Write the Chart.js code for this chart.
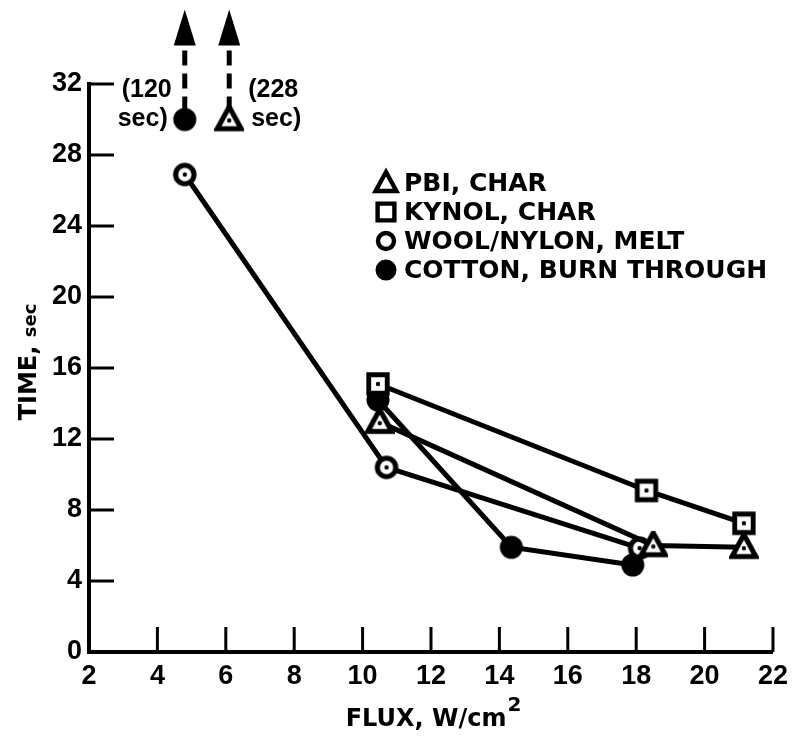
<!DOCTYPE html>
<html>
<head>
<meta charset="utf-8">
<script src="https://cdn.jsdelivr.net/npm/chart.js@4.4.0/dist/chart.umd.min.js"></script>
<style>
body{margin:0;background:#fff;}
#wrap{width:796px;height:741px;position:relative;}
</style>
</head>
<body>
<div id="wrap"><canvas id="myChart"></canvas></div>
<script>
// values (flux W/cm2 , time sec)
var pbiFlux = [10.5, 18.5, 21.15];
var pbiTime = [12.95, 6.0, 5.9];
var kynolFlux = [10.45, 18.3, 21.15];
var kynolTime = [15.1, 9.1, 7.25];
var woolFlux = [4.8, 10.7, 18.1];
var woolTime = [26.9, 10.4, 5.85];
var cottonFlux = [10.45, 14.35, 17.9];
var cottonTime = [14.2, 5.9, 4.9];

// off scale results, plotted at 30 with an arrow up
var offFlux = [4.8, 6.1];
var offTime = [30, 30];
var offText = [['(120', 'sec)'], ['(228', 'sec)']];
var arrowTop = 36.2;

var xTicks = [2, 4, 6, 8, 10, 12, 14, 16, 18, 20, 22];
var yTicks = [0, 4, 8, 12, 16, 20, 24, 28, 32];
var legendLabels = ['PBI, CHAR', 'KYNOL, CHAR', 'WOOL/NYLON, MELT', 'COTTON, BURN THROUGH'];

function pts(xs, ys){
  var out = [];
  for (var i = 0; i < xs.length; i++) out.push({x: xs[i], y: ys[i]});
  return out;
}

// marker shapes
function drawShape(ctx, kind, cx, cy, s, dot){
  ctx.strokeStyle = '#000';
  ctx.fillStyle = '#fff';
  ctx.lineWidth = s * 0.22;
  ctx.beginPath();
  if (kind == 'tri'){
    ctx.moveTo(cx, cy - s * 0.55);
    ctx.lineTo(cx + s * 0.52, cy + s * 0.4);
    ctx.lineTo(cx - s * 0.52, cy + s * 0.4);
    ctx.closePath();
  } else if (kind == 'sq'){
    ctx.rect(cx - s * 0.42, cy - s * 0.42, s * 0.84, s * 0.84);
  } else {
    ctx.arc(cx, cy, s * 0.4, 0, Math.PI * 2);
  }
  if (kind == 'dot'){
    ctx.fillStyle = '#000';
    ctx.arc(cx, cy, s * 0.5, 0, Math.PI * 2);
    ctx.fill();
    return;
  }
  ctx.fill();
  ctx.stroke();
  if (dot){
    ctx.fillStyle = '#000';
    ctx.beginPath();
    ctx.arc(cx, kind == 'tri' ? cy + 1 : cy, 2.2, 0, Math.PI * 2);
    ctx.fill();
  }
}

function marker(kind, s){
  var c = document.createElement('canvas');
  c.width = 30; c.height = 30;
  drawShape(c.getContext('2d'), kind, 15, 15, s, true);
  return c;
}

var mTri = marker('tri', 23);
var mSq = marker('sq', 22);
var mRing = marker('ring', 23);
var mDot = marker('dot', 23);

var black = '#000';
var tickFont = {family: '"Liberation Sans", Arial, sans-serif', size: 27, weight: 'bold'};

function lineSet(label, data, img){
  return {
    label: label,
    data: data,
    showLine: true,
    borderColor: black,
    borderWidth: 5,
    pointStyle: img,
    tension: 0
  };
}

var annot = {
  id: 'annot',
  afterDatasetsDraw: function(chart){
    var ctx = chart.ctx;
    var xs = chart.scales.x, ys = chart.scales.y;
    var a = chart.chartArea;
    ctx.save();

    // inner tick marks
    ctx.strokeStyle = black;
    ctx.lineWidth = 3;
    yTicks.forEach(function(v){
      if (v == 0) return;
      var py = ys.getPixelForValue(v);
      ctx.beginPath(); ctx.moveTo(a.left, py); ctx.lineTo(a.left + 25, py); ctx.stroke();
    });
    xTicks.forEach(function(v){
      if (v == 2) return;
      var px = xs.getPixelForValue(v);
      ctx.beginPath(); ctx.moveTo(px, a.bottom); ctx.lineTo(px, a.bottom - 25); ctx.stroke();
    });

    // arrows for off scale points
    for (var i = 0; i < offFlux.length; i++){
      var px = xs.getPixelForValue(offFlux[i]);
      var py = ys.getPixelForValue(offTime[i]);
      var pt = ys.getPixelForValue(arrowTop);
      ctx.lineWidth = 5;
      ctx.setLineDash([15, 8]);
      ctx.beginPath(); ctx.moveTo(px, py - 8); ctx.lineTo(px, pt + 30); ctx.stroke();
      ctx.setLineDash([]);
      ctx.fillStyle = black;
      ctx.beginPath();
      ctx.moveTo(px, pt);
      ctx.lineTo(px + 11, pt + 36);
      ctx.lineTo(px - 11, pt + 36);
      ctx.closePath();
      ctx.fill();

      ctx.font = 'bold 25px "Liberation Sans", Arial, sans-serif';
      ctx.textBaseline = 'middle';
      if (i == 0){
        ctx.textAlign = 'right';
        ctx.fillText(offText[i][0], px - 13, py - 29);
        ctx.fillText(offText[i][1], px - 17, py);
      } else {
        ctx.textAlign = 'left';
        ctx.fillText(offText[i][0], px + 19, py - 29);
        ctx.fillText(offText[i][1], px + 22, py);
      }
    }

    // legend
    var kinds = ['tri', 'sq', 'ring', 'dot'];
    var lx = 386, ly = 183, step = 29;
    ctx.textAlign = 'left';
    ctx.textBaseline = 'middle';
    ctx.font = 'bold 25px "DejaVu Sans", sans-serif';
    for (var k = 0; k < legendLabels.length; k++){
      var yy = ly + k * step;
      drawShape(ctx, kinds[k], lx, yy, kinds[k] == 'dot' ? 21 : 20, false);
      ctx.fillStyle = black;
      ctx.fillText(legendLabels[k], lx + 18, yy + 1);
    }

    // axis titles
    ctx.fillStyle = black;
    ctx.textBaseline = 'alphabetic';
    ctx.textAlign = 'left';
    var f1 = 'bold 24px "DejaVu Sans", sans-serif';
    var f2 = 'bold 18px "DejaVu Sans", sans-serif';
    var f3 = 'bold 20px "DejaVu Sans", sans-serif';
    ctx.font = f1;
    var w1 = ctx.measureText('FLUX, W/cm').width;
    ctx.font = f3;
    var w2 = ctx.measureText('2').width;
    var sx = 433 - (w1 + w2) / 2;
    ctx.font = f1;
    ctx.fillText('FLUX, W/cm', sx, 726);
    ctx.font = f3;
    ctx.fillText('2', sx + w1 + 1, 711);

    ctx.translate(36, 362);
    ctx.rotate(-Math.PI / 2);
    ctx.font = f1;
    var t1 = ctx.measureText('TIME, ').width;
    ctx.font = f2;
    var t2 = ctx.measureText('sec').width;
    var tx = -(t1 + t2) / 2;
    ctx.font = f1;
    ctx.fillText('TIME, ', tx, 0);
    ctx.font = f2;
    ctx.fillText('sec', tx + t1, 0);

    ctx.restore();
  }
};

var ctx = document.getElementById('myChart');
var chart = new Chart(ctx, {
  type: 'scatter',
  data: {
    datasets: [
      lineSet('PBI, CHAR', pts(pbiFlux, pbiTime), mTri),
      lineSet('KYNOL, CHAR', pts(kynolFlux, kynolTime), mSq),
      lineSet('WOOL/NYLON, MELT', pts(woolFlux, woolTime), mRing),
      lineSet('COTTON, BURN THROUGH', pts(cottonFlux, cottonTime), mDot),
      {
        label: 'off scale',
        data: pts(offFlux, offTime),
        showLine: false,
        pointStyle: [mDot, mTri]
      }
    ]
  },
  options: {
    responsive: true,
    maintainAspectRatio: false,
    animation: false,
    layout: {padding: {left: 0, top: 84, right: 21, bottom: 0}},
    plugins: {
      legend: {display: false},
      tooltip: {enabled: false}
    },
    scales: {
      x: {
        type: 'linear',
        min: 2, max: 22,
        afterFit: function(s){ s.height = 89; },
        afterBuildTicks: function(s){ s.ticks = xTicks.map(function(v){ return {value: v}; }); },
        grid: {drawOnChartArea: false, drawTicks: false},
        border: {color: black, width: 4},
        ticks: {color: black, padding: 8, font: tickFont}
      },
      y: {
        type: 'linear',
        min: 0, max: 32,
        afterFit: function(s){ s.width = 89; },
        afterBuildTicks: function(s){ s.ticks = yTicks.map(function(v){ return {value: v}; }); },
        grid: {drawOnChartArea: false, drawTicks: false},
        border: {color: black, width: 4},
        ticks: {color: black, padding: 7, font: tickFont}
      }
    }
  },
  plugins: [annot]
});
</script>
</body>
</html>
